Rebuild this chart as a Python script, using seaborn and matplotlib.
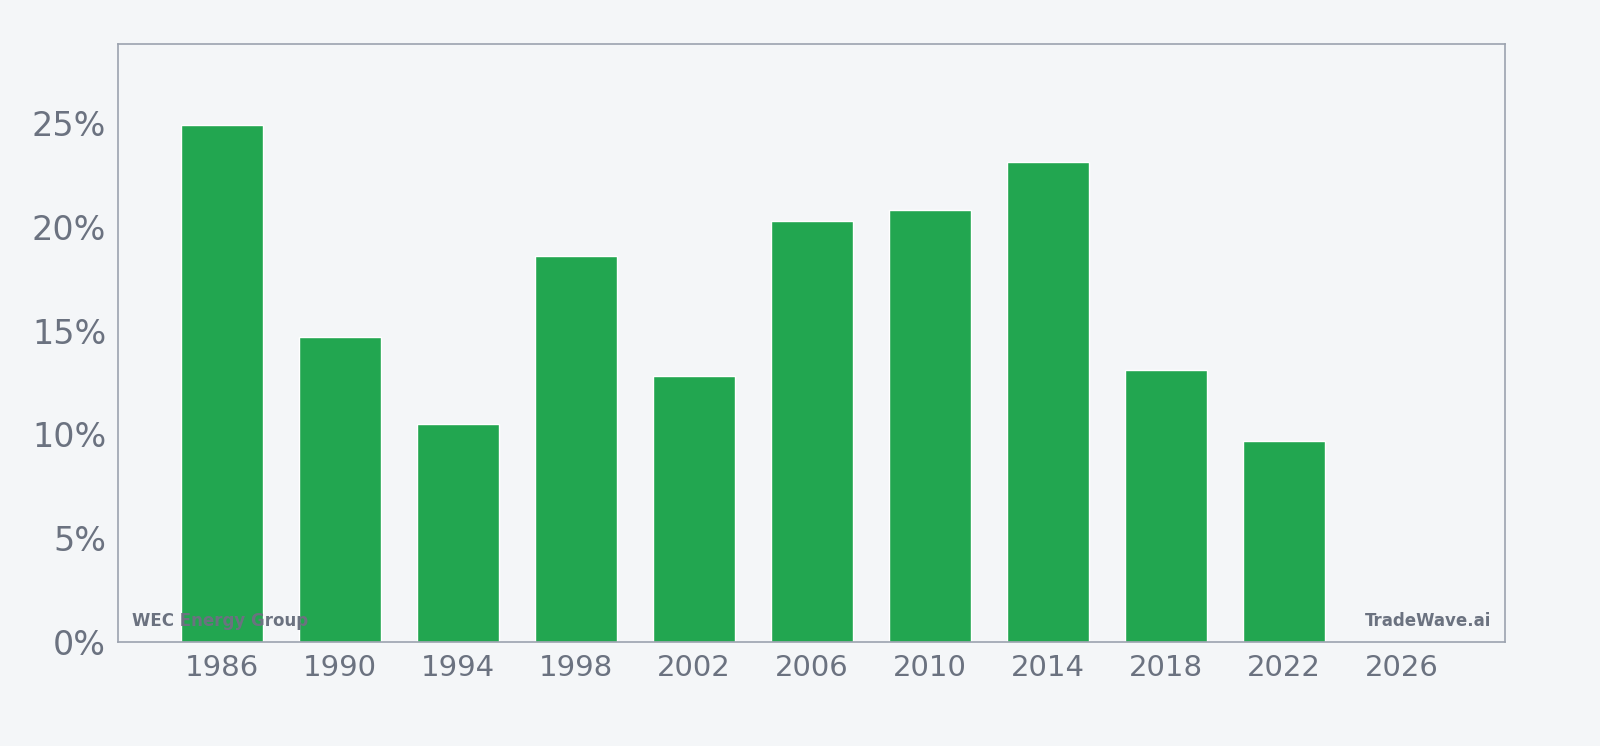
import matplotlib
matplotlib.use("Agg")
import matplotlib.pyplot as plt
import seaborn as sns
from matplotlib.ticker import FuncFormatter

years = [1986, 1990, 1994, 1998, 2002, 2006, 2010, 2014, 2018, 2022]
values = [24.9, 14.7, 10.5, 18.6, 12.8, 20.3, 20.8, 23.1, 13.1, 9.7]
xticks = [1986, 1990, 1994, 1998, 2002, 2006, 2010, 2014, 2018, 2022, 2026]

bg = "#f4f6f8"
grey = "#6b7280"

sns.set_style("white")
fig = plt.figure(figsize=(16, 7.46), dpi=100, facecolor=bg)
ax = fig.add_axes([0.07375, 0.1394, 0.867, 0.8016])
ax.set_facecolor(bg)

sns.barplot(x=years, y=values, native_scale=True, width=0.7, color="#22a650",
            saturation=1, ax=ax)

ax.set_xlim(1982.47, 2029.5)
ax.set_ylim(0, 28.8)
ax.set_xticks(xticks)
ax.set_yticks([0, 5, 10, 15, 20, 25])
ax.yaxis.set_major_formatter(FuncFormatter(lambda v, p: f"{v:.0f}%"))
ax.tick_params(axis="x", labelsize=21, colors=grey, length=5, width=1)
ax.tick_params(axis="y", labelsize=24, colors=grey, length=5, width=1)
for lab in ax.get_xticklabels() + ax.get_yticklabels():
    lab.set_color(grey)
for s in ax.spines.values():
    s.set_color("#9ca3af")
    s.set_linewidth(1.2)

ax.text(0.01, 0.02, "WEC Energy Group", transform=ax.transAxes, fontsize=12,
        fontweight="bold", color=grey, ha="left", va="bottom")
ax.text(0.99, 0.02, "TradeWave.ai", transform=ax.transAxes, fontsize=12,
        fontweight="bold", color=grey, ha="right", va="bottom")

fig.savefig("out.png", dpi=100, facecolor=bg)
